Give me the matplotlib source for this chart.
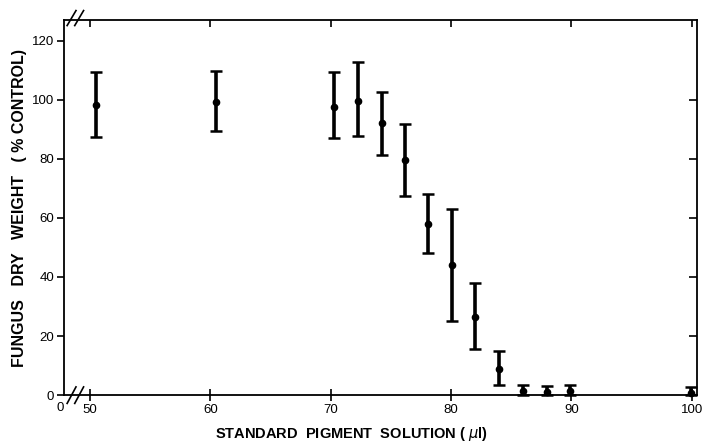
import matplotlib
matplotlib.use("Agg")
import matplotlib.pyplot as plt
import numpy as np

# Data
pigment_ul = [50.5, 60.5, 70.3, 72.3, 74.3, 76.2, 78.1, 80.1, 82.0, 84.0, 86.0, 88.0, 89.9, 99.9]
weight_mean = [98.2, 99.3, 97.7, 99.7, 92.0, 79.7, 58.0, 44.0, 26.5, 8.8, 1.5, 1.2, 1.5, 0.6]
weight_upper = [109.5, 109.8, 109.5, 112.6, 102.7, 91.7, 68.0, 63.0, 38.0, 14.8, 3.4, 3.0, 3.6, 2.6]
weight_lower = [87.3, 89.3, 87.0, 87.7, 81.3, 67.3, 48.0, 25.0, 15.5, 3.6, 0.2, 0.2, 0.2, 0.0]

x_ticks = [50, 60, 70, 80, 90, 100]
y_ticks = [0, 20, 40, 60, 80, 100, 120]

plt.rcParams['font.family'] = ['Liberation Sans', 'DejaVu Sans']

fig = plt.figure(figsize=(7.03, 4.43), dpi=100)
ax = fig.add_axes([0.091, 0.108, 0.900, 0.847])

mean = np.array(weight_mean)
yerr = [mean - np.array(weight_lower), np.array(weight_upper) - mean]
eb = ax.errorbar(pigment_ul, weight_mean, yerr=yerr, fmt='o', color='black',
                 ms=4.5, elinewidth=2.6, capsize=4, capthick=1.8, ecolor='black')
for artist in eb.lines[1] + eb.lines[2] + (eb.lines[0],):
    artist.set_clip_on(False)

ax.set_xlim(47.85, 100.4)
ax.set_ylim(0, 127)

for s in ax.spines.values():
    s.set_linewidth(1.3)
    s.set_color('black')

ax.set_xticks(x_ticks)
ax.set_xticklabels([str(t) for t in x_ticks])
ax.set_yticks(y_ticks)
ax.set_yticklabels([str(t) for t in y_ticks])
ax.tick_params(axis='x', direction='inout', length=9, width=1.2, labelsize=9.5, pad=2)
ax.tick_params(axis='y', direction='out', length=5, width=1.2, labelsize=9.5, pad=2)

# top inner ticks
axt = ax.twiny()
axt.set_xlim(ax.get_xlim())
axt.set_xticks(x_ticks)
axt.tick_params(axis='x', direction='in', length=5, width=1.2, labeltop=False)
for s in axt.spines.values():
    s.set_visible(False)

# right-side inner ticks
axr = ax.twinx()
axr.set_ylim(ax.get_ylim())
axr.set_yticks([20, 40, 60, 80, 100])
axr.tick_params(axis='y', direction='in', length=6, width=1.2, labelright=False)
for s in axr.spines.values():
    s.set_visible(False)

# origin label on x axis
ax.text(-0.006, -0.035, "0", transform=ax.transAxes, ha='center', va='center', fontsize=9.5)

# axis break marks
kw = dict(transform=ax.transAxes, color='black', lw=1.2, clip_on=False)
for dx in (0.012, 0.024):
    ax.plot([dx - 0.007, dx + 0.007], [0.985, 1.025], **kw)
    ax.plot([dx - 0.007, dx + 0.007], [-0.022, 0.022], **kw)

fig.text(0.50, 0.012, "STANDARD  PIGMENT  SOLUTION ( $\\mu$l)", ha='center', va='baseline',
         fontsize=10.5, fontweight='bold')
fig.text(0.028, 0.53, "FUNGUS   DRY   WEIGHT   ( % CONTROL)", ha='center', va='center',
         rotation=90, fontsize=11.5, fontweight='bold')

fig.savefig("out.png", dpi=100)
